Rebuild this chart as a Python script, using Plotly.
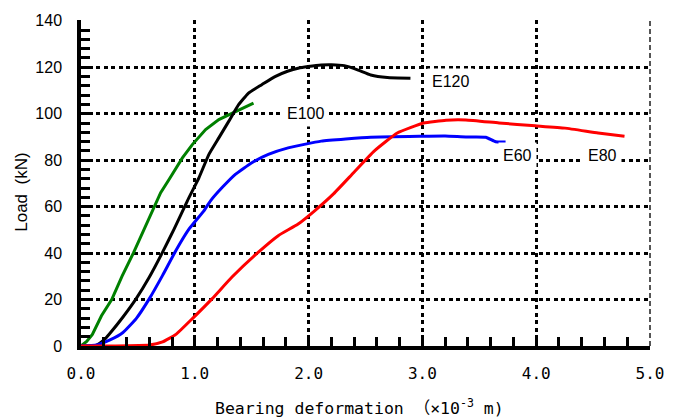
import plotly.graph_objects as go

# ---- data ----
e100_x = [0, 0.05, 0.10, 0.18, 0.27, 0.36, 0.46, 0.55, 0.645, 0.70, 0.775, 0.891, 0.978, 1.095, 1.211, 1.356, 1.516]
e100_y = [0, 2.0, 5.0, 13.0, 20.0, 30.0, 40.0, 50.0, 60.0, 66.0, 71.8, 81.0, 86.7, 93.2, 97.5, 101.0, 104.6]

e120_x = [0, 0.08, 0.137, 0.20, 0.253, 0.369, 0.485, 0.601, 0.717, 0.819, 0.935, 1.037, 1.124, 1.211, 1.298, 1.385, 1.472, 1.588, 1.705, 1.821, 1.908, 1.995, 2.111, 2.20, 2.314, 2.43, 2.546, 2.692, 2.895]
e120_y = [0, 0.1, 0.4, 2.5, 5.4, 12.5, 20.4, 29.7, 40.4, 50.4, 62.5, 72.5, 82.5, 89.6, 96.7, 103.9, 108.9, 112.5, 116.0, 118.4, 119.6, 120.3, 121.0, 121.1, 120.7, 118.9, 116.7, 115.6, 115.3]

e60_x = [0, 0.137, 0.25, 0.369, 0.485, 0.601, 0.717, 0.834, 0.95, 1.08, 1.138, 1.24, 1.356, 1.501, 1.646, 1.82, 2.111, 2.546, 2.98, 3.20, 3.382, 3.557, 3.644, 3.731]
e60_y = [0, 0.4, 2.5, 5.8, 11.8, 20.4, 30.4, 41.1, 50.4, 58.2, 62.5, 68.2, 73.9, 78.9, 82.5, 85.3, 88.2, 89.9, 90.3, 90.4, 90.0, 89.9, 87.9, 87.8]

e80_x = [0, 0.30, 0.601, 0.717, 0.834, 0.979, 1.153, 1.327, 1.559, 1.733, 1.908, 2.053, 2.221, 2.395, 2.576, 2.779, 3.011, 3.208, 3.382, 3.673, 3.992, 4.253, 4.544, 4.776]
e80_y = [0, 0, 0.4, 1.8, 5.0, 11.8, 20.4, 29.7, 40.4, 47.5, 52.5, 58.2, 65.6, 74.6, 83.9, 91.7, 96.0, 97.2, 97.3, 96.0, 94.8, 93.8, 91.7, 90.3]

labels = ["E120", "E100", "E60", "E80"]
label_x = [3.25, 1.977, 3.84, 4.585]
label_y = [113.9, 100.2, 82.2, 82.2]

x_title = "Bearing deformation （×10<sup>-3</sup> m)"
y_title = "Load&nbsp;&nbsp;(kN)"

fig = go.Figure()
series = [
    (e100_x, e100_y, "#008000", "linear"),
    (e120_x, e120_y, "#000000", "spline"),
    (e60_x, e60_y, "#0000ff", "spline"),
    (e80_x, e80_y, "#ff0000", "spline"),
]
for xs, ys, col, shape in series:
    fig.add_trace(go.Scatter(x=xs, y=ys, mode="lines",
                             line=dict(color=col, width=3, shape=shape, smoothing=0.4),
                             showlegend=False, hoverinfo="skip"))

for t, x, y in zip(labels, label_x, label_y):
    fig.add_annotation(x=x, y=y, text=t, showarrow=False, bgcolor="white", borderpad=4,
                       font=dict(family="Liberation Sans, Arial", size=16, color="#000"))

# axis titles
fig.add_annotation(xref="paper", yref="paper", x=0.49, y=0, yanchor="middle", yshift=-61,
                   text=x_title, showarrow=False,
                   font=dict(family="DejaVu Sans Mono, Noto Sans CJK SC", size=16.5, color="#000"))
fig.add_annotation(xref="paper", yref="paper", x=0, y=0.47, xanchor="center", xshift=-59,
                   text=y_title, textangle=-90, showarrow=False,
                   font=dict(family="Liberation Sans, Arial", size=17, color="#000"))

# dashed grey right edge of the frame
fig.add_shape(type="line", xref="paper", yref="paper", x0=1, x1=1, y0=0, y1=1,
              line=dict(color="#555555", width=2, dash="5px,3px"), layer="above")

tick_style = dict(ticks="inside", ticklen=9, tickwidth=2.5, tickcolor="#000000")

fig.update_layout(
    width=676, height=419,
    margin=dict(l=81, r=21, t=18, b=73),
    plot_bgcolor="white", paper_bgcolor="white",
    xaxis=dict(
        range=[0, 5], tick0=0, dtick=1, tickformat=".1f",
        showline=True, linecolor="black", linewidth=3.5, layer="above traces",
        minor=dict(tick0=0, dtick=0.2, showgrid=False, **tick_style),
        showgrid=True, gridcolor="black", gridwidth=2.5, griddash="4px,3.5px",
        zeroline=False,
        tickfont=dict(family="DejaVu Sans Mono, Noto Sans CJK SC", size=16, color="#000"),
        ticklabelstandoff=10,
        **tick_style,
    ),
    yaxis=dict(
        range=[0, 140.35], tick0=0, dtick=20,
        showline=True, linecolor="black", linewidth=3.5, layer="above traces",
        minor=dict(tick0=0, dtick=4, showgrid=False, **tick_style),
        showgrid=True, gridcolor="black", gridwidth=2.5, griddash="4px,3.5px",
        zeroline=False,
        tickfont=dict(family="Liberation Sans, Arial", size=16, color="#000"),
        ticklabelstandoff=12,
        **tick_style,
    ),
)

fig.write_html("out.html")
